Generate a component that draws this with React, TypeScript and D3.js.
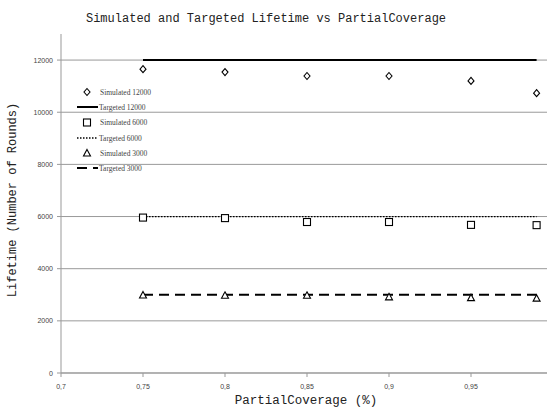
import React from "react";
import * as d3 from "d3";

const xValues = [0.75, 0.8, 0.85, 0.9, 0.95, 0.99];
const sim12000 = [11650, 11540, 11390, 11390, 11200, 10730];
const sim6000 = [5960, 5940, 5790, 5790, 5680, 5670];
const sim3000 = [2990, 2980, 2980, 2920, 2890, 2870];
const target12000 = [12000, 12000, 12000, 12000, 12000, 12000];
const target6000 = [6000, 6000, 6000, 6000, 6000, 6000];
const target3000 = [3000, 3000, 3000, 3000, 3000, 3000];
const xTicks = [0.7, 0.75, 0.8, 0.85, 0.9, 0.95];
const yTicks = [0, 2000, 4000, 6000, 8000, 10000, 12000];
const legendLabels = ["Simulated 12000", "Targeted 12000", "Simulated 6000", "Targeted 6000", "Simulated 3000", "Targeted 3000"];

const W = 548, H = 410;
const left = 61, right = 547, top = 34, bottom = 373;

export default function App() {
  const x = d3.scaleLinear().domain([0.7, 1.0]).range([left, left + 82 * 6]);
  const y = d3.scaleLinear().domain([0, 13000]).range([bottom, top]);
  const line = d3.line<[number, number]>().x(d => x(d[0])).y(d => y(d[1]));
  const fmt = (v: number) => String(v).replace(".", ",");
  const mono = "'Liberation Mono', 'Courier New', monospace";
  const sans = "'Liberation Sans', Arial, sans-serif";
  const serif = "'Liberation Serif', 'Times New Roman', serif";

  const diamond = (cx: number, cy: number, k: string) => (
    <path key={k} d={`M${cx},${cy - 3.5}L${cx + 3},${cy}L${cx},${cy + 3.5}L${cx - 3},${cy}Z`} fill="#fff" stroke="#000" strokeWidth={1.1} />
  );
  const square = (cx: number, cy: number, k: string) => (
    <rect key={k} x={cx - 3.5} y={cy - 3.5} width={7} height={7} fill="#fff" stroke="#000" strokeWidth={1.1} />
  );
  const triangle = (cx: number, cy: number, k: string) => (
    <path key={k} d={`M${cx},${cy - 3.5}L${cx + 3.5},${cy + 3}L${cx - 3.5},${cy + 3}Z`} fill="#fff" stroke="#000" strokeWidth={1.1} />
  );

  const pts = (vals: number[]) => xValues.map((v, i) => [v, vals[i]] as [number, number]);

  const legendY = [92, 107, 122.5, 138, 153, 168];

  return (
    <svg width={W} height={H} style={{ position: "absolute", left: 0, top: 0, background: "#fff" }}>
      <text x={266} y={22} textAnchor="middle" fontFamily={mono} fontSize={12} fill="#222">
        Simulated and Targeted Lifetime vs PartialCoverage
      </text>
      {yTicks.map(t => (
        <line key={"g" + t} x1={left} x2={right} y1={y(t)} y2={y(t)} stroke="#999" strokeWidth={1} />
      ))}
      <line x1={left} x2={left} y1={top} y2={bottom} stroke="#999" />
      <line x1={left} x2={right} y1={bottom} y2={bottom} stroke="#999" />
      {yTicks.map(t => (
        <g key={"yt" + t}>
          <line x1={left - 4} x2={left} y1={y(t)} y2={y(t)} stroke="#999" />
          <text x={left - 8} y={y(t) + 2.5} textAnchor="end" fontFamily={sans} fontSize={7} fill="#444">{t}</text>
        </g>
      ))}
      {xTicks.map(t => (
        <g key={"xt" + t}>
          <line x1={x(t)} x2={x(t)} y1={bottom} y2={bottom + 4} stroke="#999" />
          <text x={x(t)} y={bottom + 16} textAnchor="middle" fontFamily={sans} fontSize={7} fill="#444">{fmt(t)}</text>
        </g>
      ))}
      <text x={306} y={404} textAnchor="middle" fontFamily={mono} fontSize={12.5} fill="#222">PartialCoverage (%)</text>
      <text transform={`translate(16,200) rotate(-90)`} textAnchor="middle" fontFamily={mono} fontSize={12} fill="#222">
        Lifetime (Number of Rounds)
      </text>
      <path d={line(pts(target12000)) || ""} fill="none" stroke="#000" strokeWidth={2} />
      <path d={line(pts(target6000)) || ""} fill="none" stroke="#000" strokeWidth={1.3} strokeDasharray="1.5,1.5" />
      <path d={line(pts(target3000)) || ""} fill="none" stroke="#000" strokeWidth={2} strokeDasharray="10,6" />
      {xValues.map((v, i) => diamond(x(v), y(sim12000[i]), "d" + i))}
      {xValues.map((v, i) => square(x(v), y(sim6000[i]), "s" + i))}
      {xValues.map((v, i) => triangle(x(v), y(sim3000[i]), "t" + i))}
      <g>
        {diamond(87, legendY[0], "ld")}
        <line x1={77} x2={98} y1={legendY[1]} y2={legendY[1]} stroke="#000" strokeWidth={2} />
        {square(87, legendY[2], "ls")}
        <line x1={77} x2={98} y1={legendY[3]} y2={legendY[3]} stroke="#000" strokeWidth={1.3} strokeDasharray="1.5,1.5" />
        {triangle(87, legendY[4], "lt")}
        <line x1={77} x2={98} y1={legendY[5]} y2={legendY[5]} stroke="#000" strokeWidth={2} strokeDasharray="10,6" />
        {legendLabels.map((l, i) => (
          <text key={l} x={i % 2 === 0 ? 100 : 99} y={legendY[i] + 2.5} fontFamily={serif} fontSize={7.5} fill="#444">{l}</text>
        ))}
      </g>
    </svg>
  );
}
